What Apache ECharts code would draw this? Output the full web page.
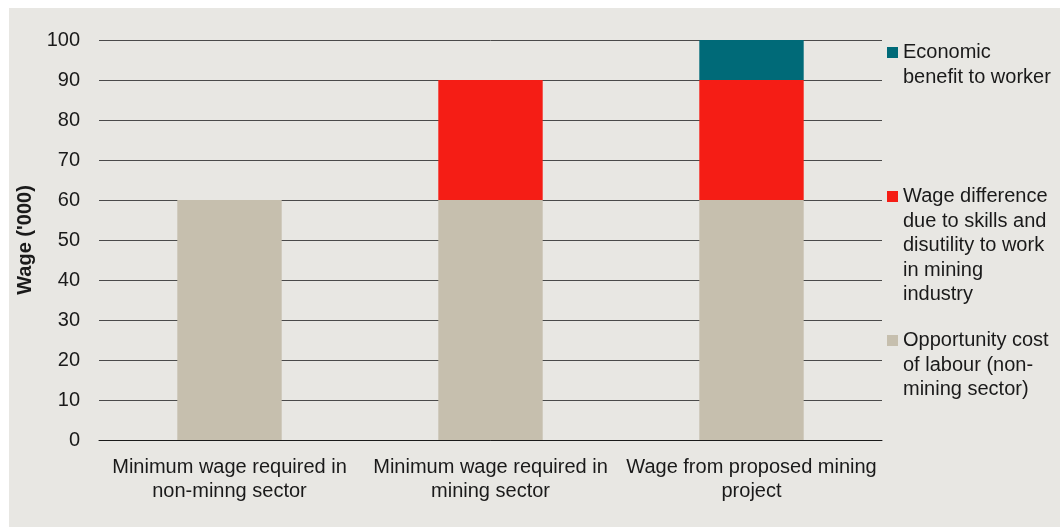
<!DOCTYPE html>
<html>
<head>
<meta charset="utf-8">
<script src="https://cdn.jsdelivr.net/npm/echarts@6/dist/echarts.min.js"></script>
<style>
html,body{margin:0;padding:0;background:#fff;}
#chart{width:1060px;height:527px;}
</style>
</head>
<body>
<div id="chart"></div>
<script>
const categories = ['Minimum wage required in\nnon-minng sector', 'Minimum wage required in\nmining sector', 'Wage from proposed mining\nproject'];
const opportunityCost = [60, 60, 60];
const wageDifference = [null, 30, 30];
const economicBenefit = [null, null, 10];
const yTicks = [0, 10, 20, 30, 40, 50, 60, 70, 80, 90, 100];

const seriesNames = {
  econ: 'Economic benefit to worker',
  wage: 'Wage difference due to skills and disutility to work in mining industry',
  opp: 'Opportunity cost of labour (non-mining sector)'
};
const legendLines = {};
legendLines[seriesNames.econ] = ['Economic', 'benefit to worker'];
legendLines[seriesNames.wage] = ['Wage difference', 'due to skills and', 'disutility to work', 'in mining', 'industry'];
legendLines[seriesNames.opp] = ['Opportunity cost', 'of labour (non-', 'mining sector)'];

const FONT = 'Liberation Sans';
const LH = 24.5;
function legendText(name) {
  const lines = legendLines[name];
  const pad = new Array(lines.length - 1).fill('');
  return pad.concat(lines).join('\n');
}
function legendTop(iconCenter, name) {
  const n = legendLines[name].length;
  return iconCenter - (2 * n - 1) * LH / 2;
}
function makeLegend(name, iconCenter) {
  return {
    data: [name],
    left: 887,
    top: legendTop(iconCenter, name),
    padding: 0,
    icon: 'rect',
    itemWidth: 11,
    itemHeight: 11,
    itemGap: 5,
    selectedMode: false,
    formatter: legendText,
    textStyle: { fontFamily: FONT, fontSize: 20, color: '#1a1a1a', lineHeight: LH }
  };
}

const chart = echarts.init(document.getElementById('chart'), null, { renderer: 'canvas' });
chart.setOption({
  backgroundColor: '#ffffff',
  animation: false,
  graphic: [{
    type: 'rect', z: -10, silent: true,
    shape: { x: 9, y: 8, width: 1060, height: 527 },
    style: { fill: '#e8e7e3' }
  }],
  grid: { left: 99, right: 178, top: 40, bottom: 87 },
  legend: [
    makeLegend(seriesNames.econ, 52.5),
    makeLegend(seriesNames.wage, 196.5),
    makeLegend(seriesNames.opp, 340.5)
  ],
  xAxis: {
    type: 'category',
    data: categories,
    axisTick: { show: false },
    axisLine: { lineStyle: { color: '#1a1a1a', width: 1 } },
    axisLabel: { interval: 0, margin: 15, fontFamily: FONT, fontSize: 20, color: '#1a1a1a', lineHeight: 24 }
  },
  yAxis: {
    type: 'value',
    min: yTicks[0],
    max: yTicks[yTicks.length - 1],
    interval: 10,
    name: "Wage ('000)",
    nameLocation: 'middle',
    nameRotate: 90,
    nameGap: 62,
    nameTextStyle: { fontFamily: FONT, fontSize: 20, fontWeight: 'bold', color: '#1a1a1a' },
    axisLine: { show: false },
    axisTick: { show: false },
    axisLabel: { margin: 19, fontFamily: FONT, fontSize: 20, color: '#1a1a1a' },
    splitLine: { lineStyle: { color: '#4a4a4a', width: 1 } }
  },
  series: [
    { name: seriesNames.opp, type: 'bar', stack: 'w', data: opportunityCost, barWidth: '40%', itemStyle: { color: '#c6bfae' } },
    { name: seriesNames.wage, type: 'bar', stack: 'w', data: wageDifference, barWidth: '40%', itemStyle: { color: '#f51d15' } },
    { name: seriesNames.econ, type: 'bar', stack: 'w', data: economicBenefit, barWidth: '40%', itemStyle: { color: '#006a78' } }
  ]
});
</script>
</body>
</html>
